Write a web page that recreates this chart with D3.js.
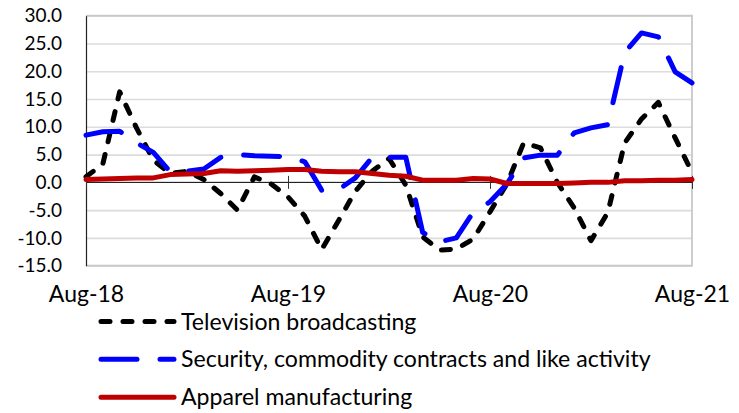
<!DOCTYPE html>
<html>
<head>
<meta charset="utf-8">
<script src="https://cdnjs.cloudflare.com/ajax/libs/d3/7.8.5/d3.min.js"></script>
<style>
  html, body { margin: 0; padding: 0; background: #fff; }
  svg { display: block; }
  text { font-family: Lato, "Open Sans", sans-serif; fill: #000; }
</style>
</head>
<body>
<svg id="chart" width="739" height="413"></svg>
<script>
// Monthly categories, Aug 2018 – Aug 2021
const months = [
  "Aug-18","Sep-18","Oct-18","Nov-18","Dec-18","Jan-19","Feb-19","Mar-19","Apr-19","May-19","Jun-19","Jul-19",
  "Aug-19","Sep-19","Oct-19","Nov-19","Dec-19","Jan-20","Feb-20","Mar-20","Apr-20","May-20","Jun-20","Jul-20",
  "Aug-20","Sep-20","Oct-20","Nov-20","Dec-20","Jan-21","Feb-21","Mar-21","Apr-21","May-21","Jun-21","Jul-21",
  "Aug-21"
];
const xTickLabels = ["Aug-18", "Aug-19", "Aug-20", "Aug-21"];
const yTicks = [-15, -10, -5, 0, 5, 10, 15, 20, 25, 30];

const televisionBroadcasting = [
  1.0, 3.3, 16.3, 9.8, 4.0, 1.6, 2.0, 0.5, -2.0, -5.0, 1.0, -0.3,
  -2.6, -6.1, -12.1, -6.9, -1.6, 2.0, 4.3, -0.5, -9.8, -12.2, -12.0, -10.2,
  -5.3, -0.3, 7.1, 6.2, 0.0, -4.6, -10.5, -5.4, 7.1, 11.4, 14.4, 8.0,
  1.8
];
const securityCommodity = [
  8.5, 9.1, 9.2, 7.1, 5.4, 1.9, 2.0, 2.4, 4.5, 5.0, 4.8, 4.7,
  4.6, 3.7, -1.4, -1.3, 0.8, 4.5, 4.5, 4.5, -9.0, -10.7, -10.0, -5.4,
  -3.5, -0.3, 4.4, 4.9, 4.9, 8.9, 9.8, 10.4, 23.4, 26.9, 26.2, 19.9,
  17.9
];
const apparelManufacturing = [
  0.5, 0.6, 0.7, 0.8, 0.8, 1.4, 1.5, 1.6, 2.1, 2.0, 2.1, 2.2,
  2.3, 2.3, 2.0, 1.9, 1.9, 1.6, 1.3, 1.1, 0.4, 0.4, 0.4, 0.7,
  0.6, -0.2, -0.2, -0.2, -0.2, -0.1, 0.0, 0.0, 0.3, 0.3, 0.4, 0.4,
  0.5
];

const seriesNames = [
  "Television broadcasting",
  "Security, commodity contracts and like activity",
  "Apparel manufacturing"
];

const series = [
  { name: seriesNames[0], values: televisionBroadcasting, color: "#000000", dash: "9,13" },
  { name: seriesNames[1], values: securityCommodity, color: "#0000ff", dash: "36,23" },
  { name: seriesNames[2], values: apparelManufacturing, color: "#c00000", dash: null }
];

const LEGEND_FONT = 23.1;
const X_FONT = 23;
const Y_FONT = 19;
const plot = { left: 86, right: 692, top: 15.7, bottom: 265.7 };

const svg = d3.select("#chart");
svg.append("rect").attr("width", 739).attr("height", 413).attr("fill", "#fff");

const x = d3.scalePoint().domain(months).range([plot.left, plot.right]);
const y = d3.scaleLinear().domain([-15, 30]).range([plot.bottom, plot.top]);

// horizontal gridlines
svg.append("g")
  .attr("transform", `translate(${plot.left},0)`)
  .call(d3.axisLeft(y).tickValues(yTicks.filter(d => d !== 0)).tickSize(-(plot.right - plot.left)).tickFormat(""))
  .call(g => g.select(".domain").remove())
  .call(g => g.selectAll("line").attr("stroke", "#dcdcdc").attr("stroke-width", 1.6));

// plot-area border (top, right, bottom)
svg.append("path")
  .attr("d", `M${plot.left},${plot.top}H${plot.right}V${plot.bottom}H${plot.left}`)
  .attr("fill", "none").attr("stroke", "#c8c8c8").attr("stroke-width", 1.8);

// y axis with labels
svg.append("g")
  .attr("transform", `translate(${plot.left},0)`)
  .call(d3.axisLeft(y).tickValues(yTicks).tickSize(0).tickPadding(24).tickFormat(d => d.toFixed(1)))
  .call(g => g.select(".domain").attr("stroke", "#222").attr("stroke-width", 1.2))
  .call(g => g.selectAll("text").style("font-size", Y_FONT + "px").style("font-family", "Lato").attr("fill", "#000"));

// zero line with crossing year ticks
const y0 = y(0);
svg.append("line")
  .attr("x1", plot.left).attr("x2", plot.right)
  .attr("y1", y0).attr("y2", y0)
  .attr("stroke", "#000").attr("stroke-width", 1);
svg.append("g")
  .attr("transform", `translate(0,${y0 - 6.5})`)
  .call(d3.axisBottom(x).tickValues(xTickLabels).tickSize(13).tickFormat(""))
  .call(g => g.select(".domain").remove())
  .call(g => g.selectAll("line").attr("stroke", "#333").attr("stroke-width", 1));

// x labels below plot
svg.append("g")
  .attr("transform", `translate(0,${plot.bottom})`)
  .call(d3.axisBottom(x).tickValues(xTickLabels).tickSize(0).tickPadding(20))
  .call(g => g.select(".domain").remove())
  .call(g => g.selectAll("text").style("font-size", X_FONT + "px").style("font-family", "Lato").attr("fill", "#000"));

// series lines
const line = d3.line().x((d, i) => x(months[i])).y(d => y(d));
series.forEach(s => {
  svg.append("path")
    .datum(s.values)
    .attr("d", line)
    .attr("fill", "none")
    .attr("stroke", s.color)
    .attr("stroke-width", 5)
    .attr("stroke-linecap", "round")
    .attr("stroke-linejoin", "round")
    .attr("stroke-dasharray", s.dash);
});

// legend
const legendRows = [321.5, 359.3, 397.3];
const legend = svg.append("g");
series.forEach((s, i) => {
  const row = legend.append("g").attr("transform", `translate(0,${legendRows[i]})`);
  row.append("line")
    .attr("x1", 101).attr("x2", 174)
    .attr("stroke", s.color).attr("stroke-width", 5)
    .attr("stroke-linecap", "round")
    .attr("stroke-dasharray", s.dash);
  row.append("text")
    .attr("x", 181).attr("dy", "0.35em")
    .style("font-size", LEGEND_FONT + "px")
    .text(s.name);
});
</script>
</body>
</html>
